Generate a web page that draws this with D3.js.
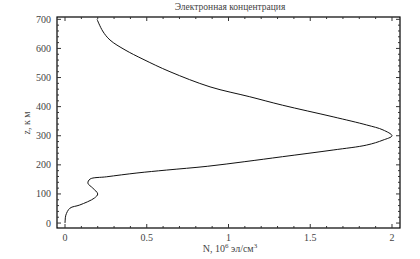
<!DOCTYPE html>
<html><head><meta charset="utf-8">
<script src="https://cdn.jsdelivr.net/npm/d3@7"></script>
<style>body{margin:0;background:#fff}</style>
</head><body><svg id="c" width="420" height="259" font-family="'Liberation Serif', 'DejaVu Serif', serif"></svg>
<script>
const altitude = [0, 10, 27, 51, 62, 86, 100, 120, 137, 151, 159, 172, 182, 195, 211, 228, 251, 268, 285, 300, 320, 337, 365, 405, 434, 468, 520, 563, 595, 629, 660, 700];
const density  = [0, 0.001, 0.005, 0.03, 0.09, 0.18, 0.2, 0.17, 0.14, 0.153, 0.255, 0.44, 0.62, 0.87, 1.10, 1.33, 1.64, 1.845, 1.945, 2.0, 1.945, 1.845, 1.64, 1.33, 1.13, 0.887, 0.642, 0.477, 0.367, 0.275, 0.23, 0.196];
const xTicks = [0, 0.5, 1, 1.5, 2];
const xTickLabels = ["0", "0.5", "1", "1.5", "2"];
const yTicks = [0, 100, 200, 300, 400, 500, 600, 700];
const titleText = "Электронная  концентрация";
const yLabel = "z, к м";

const svg = d3.select("#c");
const L = 57, R = 400, T = 17, B = 228;
const x = d3.scaleLinear().domain([-0.049, 2.049]).range([L, R]);
const y = d3.scaleLinear().domain([-17, 708]).range([B, T]);

const g = svg.append("g");
g.append("rect").attr("x", L).attr("y", T).attr("width", R - L).attr("height", B - T)
  .attr("fill", "none").attr("stroke", "#000").attr("stroke-width", 1.2);

const xMinor = d3.range(0, 2.05, 0.1);
const yMinor = d3.range(0, 701, 20);
const tickCol = "#333";
xMinor.forEach(v => {
  const major = xTicks.some(t => Math.abs(t - v) < 1e-6);
  const len = major ? 4 : 2;
  g.append("line").attr("x1", x(v)).attr("x2", x(v)).attr("y1", B).attr("y2", B - len).attr("stroke", tickCol);
  g.append("line").attr("x1", x(v)).attr("x2", x(v)).attr("y1", T).attr("y2", T + len).attr("stroke", tickCol);
});
yMinor.forEach(v => {
  const major = yTicks.includes(Math.round(v));
  const len = major ? 4 : 2;
  g.append("line").attr("y1", y(v)).attr("y2", y(v)).attr("x1", L).attr("x2", L + len).attr("stroke", tickCol);
  g.append("line").attr("y1", y(v)).attr("y2", y(v)).attr("x1", R).attr("x2", R - len).attr("stroke", tickCol);
});
xTicks.forEach((v, i) => {
  g.append("text").attr("x", x(v)).attr("y", 241).attr("text-anchor", "middle")
    .attr("font-size", 10).attr("fill", "#444").text(xTickLabels[i]);
});
yTicks.forEach(v => {
  g.append("text").attr("x", 51).attr("y", y(v) + 3.5).attr("text-anchor", "end")
    .attr("font-size", 10).attr("fill", "#444").text(v);
});
svg.append("text").attr("x", 230).attr("y", 10).attr("text-anchor", "middle")
  .attr("font-size", 9.5).attr("fill", "#444").text(titleText);
svg.append("text").attr("transform", "translate(30,123) rotate(-90)").attr("text-anchor", "middle")
  .attr("font-size", 10).attr("fill", "#444").text(yLabel);
const xl = svg.append("text").attr("x", 230).attr("y", 252).attr("text-anchor", "middle")
  .attr("font-size", 10).attr("fill", "#444");
xl.append("tspan").text("N, 10");
xl.append("tspan").attr("dy", -4).attr("font-size", 7).text("6");
xl.append("tspan").attr("dy", 4).text(" эл/см");
xl.append("tspan").attr("dy", -4).attr("font-size", 7).text("3");

const pts = altitude.map((z, i) => [density[i], z]);
const line = d3.line().x(d => x(d[0])).y(d => y(d[1])).curve(d3.curveCatmullRom.alpha(0.5));
g.append("path").attr("d", line(pts)).attr("fill", "none").attr("stroke", "#111").attr("stroke-width", 1);
</script></body></html>
